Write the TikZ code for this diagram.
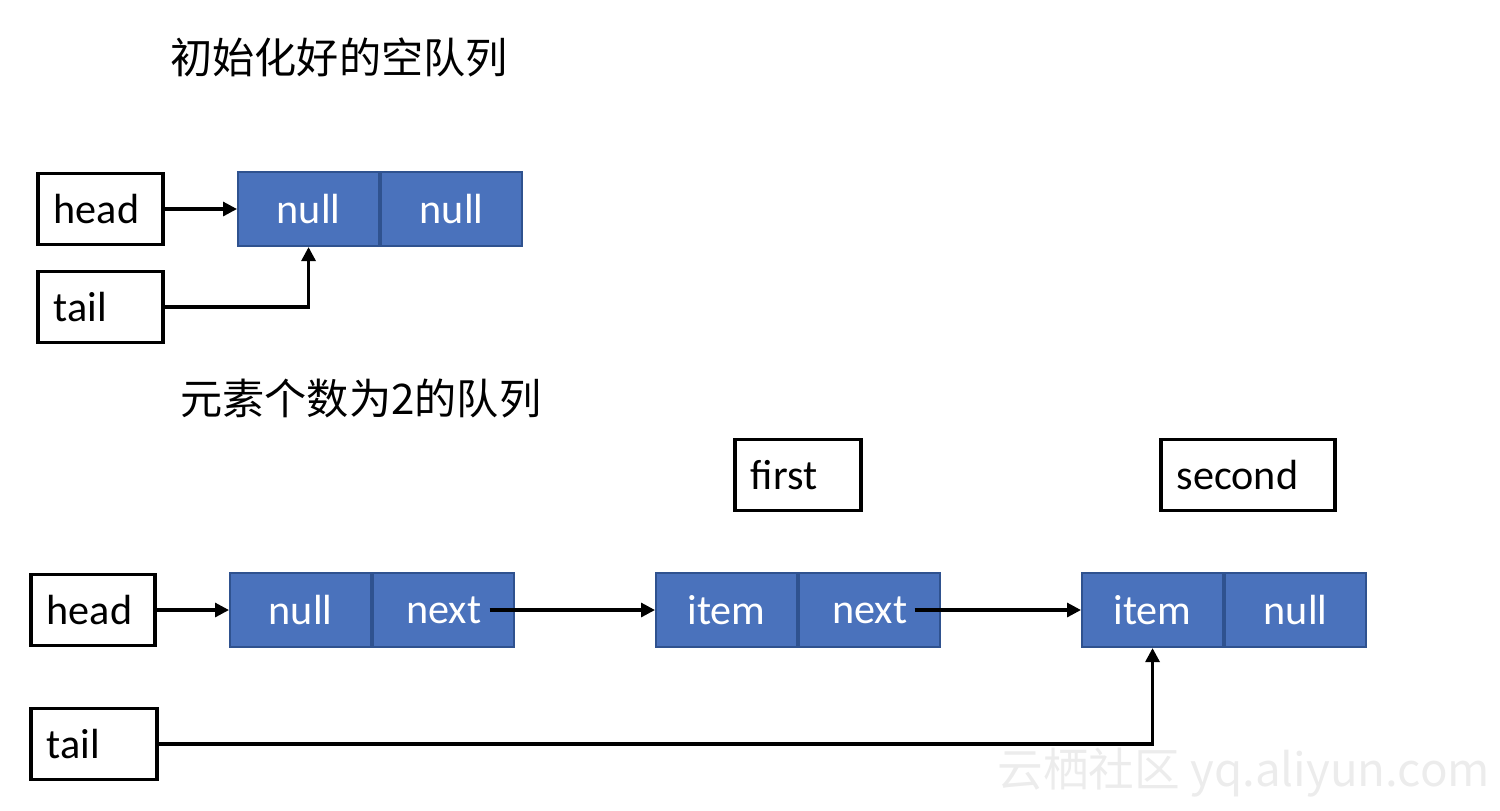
\documentclass[tikz,border=0pt]{standalone}
\usepackage{fontspec}
\setmainfont{Carlito}
\newfontfamily\cjk{Noto Sans CJK SC}
\usetikzlibrary{arrows.meta,positioning,calc}
\definecolor{Cell}{HTML}{4A72BC}
\definecolor{CellEdge}{HTML}{2F528F}
\tikzset{
  arr/.style={-{Triangle[length=1.4mm,width=1.4mm]},line width=0.9pt,draw=black},
  ptrbox/.style={draw=black,line width=1pt,anchor=west,minimum height=0.71cm,inner xsep=0.16cm,align=left,font=\fontsize{12}{14}\selectfont},
  cellbox/.style={draw=CellEdge,fill=Cell,text=white,line width=0.6pt,minimum width=1.41cm,minimum height=0.74cm,font=\fontsize{12}{14}\selectfont},
  title/.style={anchor=west,font=\cjk\fontsize{12}{14}\selectfont}
}
\begin{document}
\begin{tikzpicture}
  \useasboundingbox (0,0) rectangle (15,-8.1);
  % empty queue
  \node[title] (t1) at (1.58,-0.57) {初始化好的空队列};
  \node[ptrbox,text width=0.93cm] (h1) at (0.36,-2.09) {head};
  \node[ptrbox,text width=0.93cm] (tl1) at (0.36,-3.07) {tail};
  \node[cellbox,anchor=west] (e1) at (2.37,-2.09) {null};
  \node[cellbox,right=0cm of e1] (e2) {null};
  \draw[arr] (h1) -- (e1);
  \draw[arr] (tl1.east) -| (e1.south);
  % queue with two items
  \node[title] (t2) at (1.68,-3.98) {元素个数为2的队列};
  \node[ptrbox,text width=0.94cm] (fst) at (7.33,-4.75) {first};
  \node[ptrbox,text width=1.42cm] (snd) at (11.59,-4.75) {second};
  \node[ptrbox,text width=0.92cm] (h2) at (0.29,-6.10) {head};
  \node[ptrbox,text width=0.94cm] (tl2) at (0.29,-7.44) {tail};
  \node[cellbox,anchor=west] (c1) at (2.29,-6.10) {null};
  \node[cellbox,right=0cm of c1] (c2) {next};
  \node[cellbox,anchor=west] (c3) at (6.55,-6.10) {item};
  \node[cellbox,right=0cm of c3] (c4) {next};
  \node[cellbox,anchor=west] (c5) at (10.81,-6.10) {item};
  \node[cellbox,right=0cm of c5] (c6) {null};
  \draw[arr] (h2) -- (c1);
  \draw[arr] ([xshift=4.6mm]c2.center) -- (c3);
  \draw[arr] ([xshift=4.5mm]c4.center) -- (c5);
  \draw[arr] (tl2.east) -| (c5.south);
  \node[anchor=west,text=gray!15,font=\cjk\fontsize{13}{15}\selectfont] (wm) at (9.85,-7.73) {云栖社区 yq.aliyun.com};
\end{tikzpicture}
\end{document}
